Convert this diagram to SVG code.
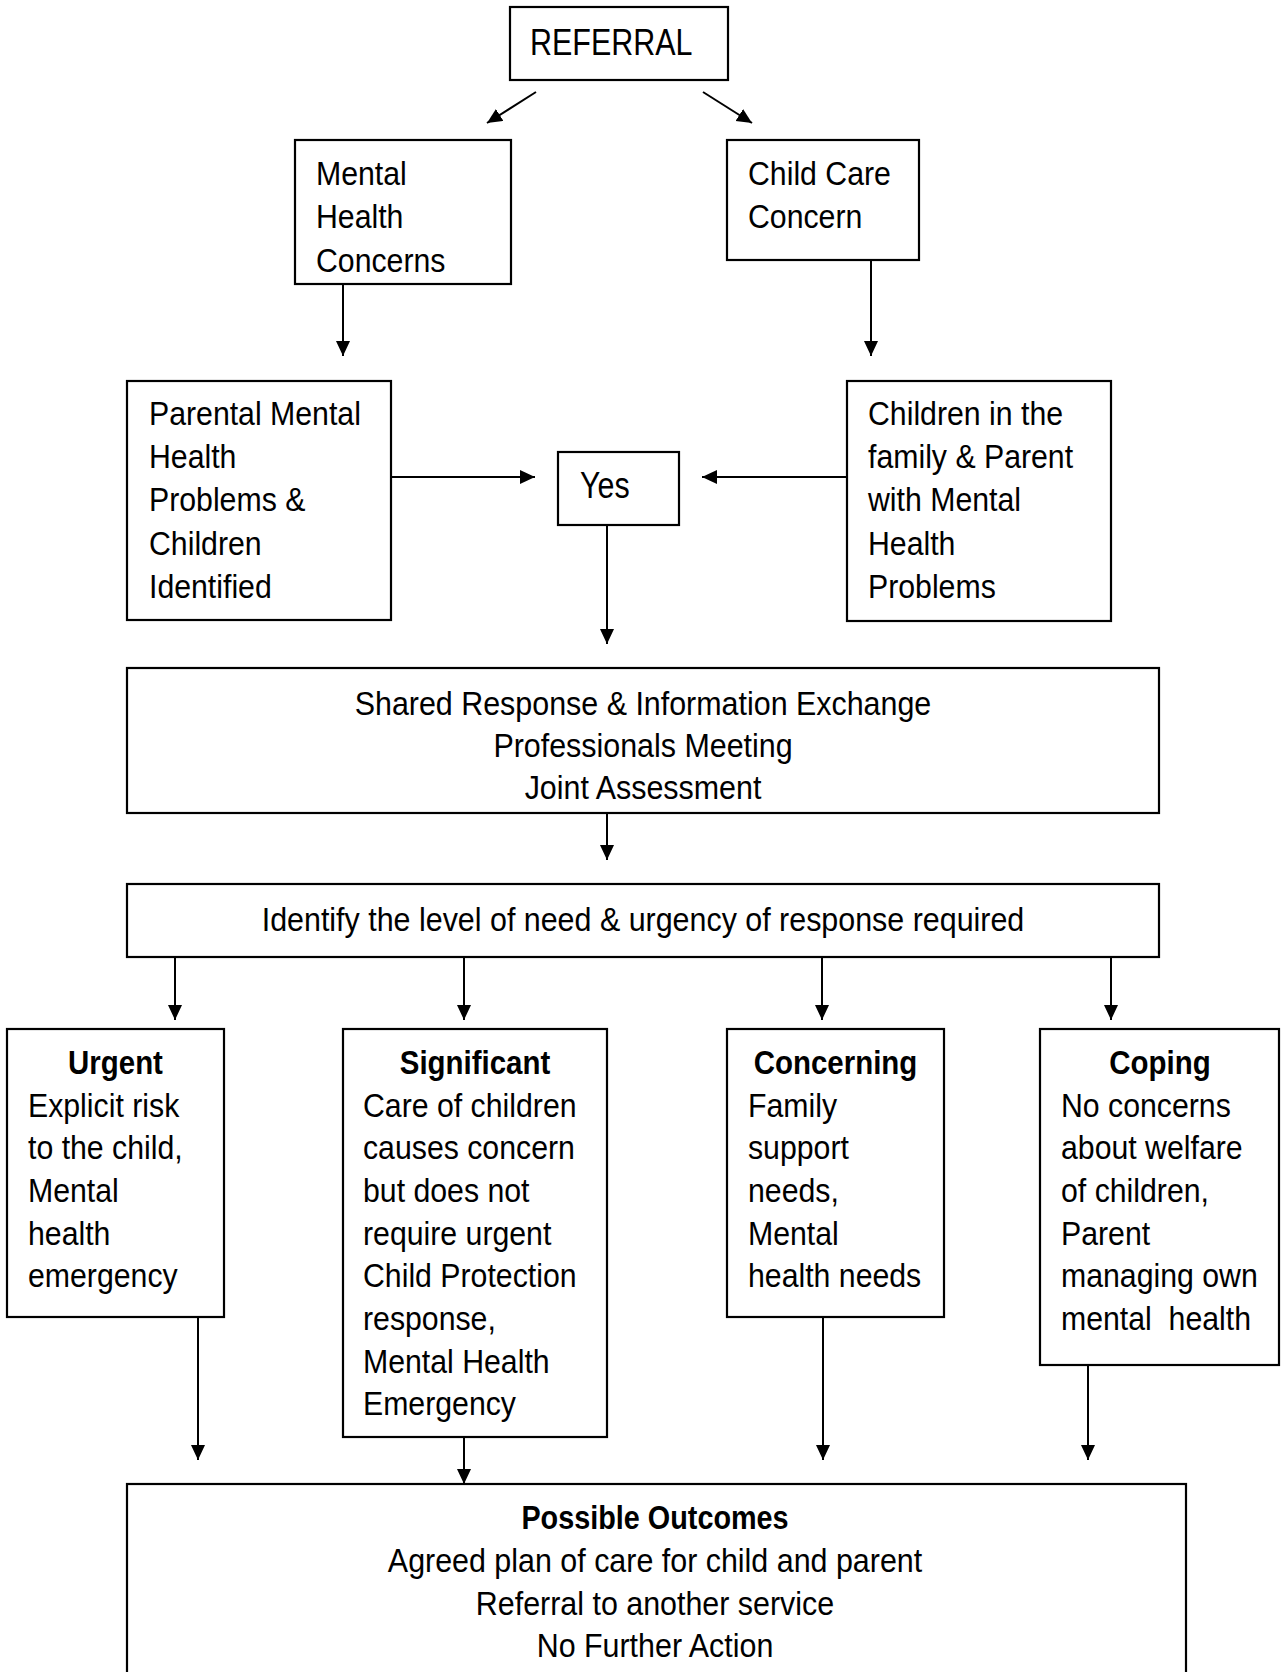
<svg xmlns="http://www.w3.org/2000/svg" width="1283" height="1672" viewBox="0 0 1283 1672">
<style>
.box{fill:#fff;stroke:#000;stroke-width:2.2}
.t{font-family:"Liberation Sans",Arial,sans-serif;font-size:34px;fill:#000}
.b{font-weight:bold}
.m{text-anchor:middle}
.big{font-size:37px}
.c{stroke:#000;stroke-width:2;fill:none;marker-end:url(#ah)}
</style>
<defs>
<marker id="ah" markerUnits="userSpaceOnUse" markerWidth="16" markerHeight="15" refX="15" refY="7" orient="auto">
<path d="M0,0 L15,7 L0,14 z" fill="#000"/>
</marker>
</defs>
<rect width="1283" height="1672" fill="#fff"/>
<g id="connectors">
<line class="c" x1="536" y1="92" x2="487" y2="123"/>
<line class="c" x1="703" y1="92" x2="752" y2="123"/>
<line class="c" x1="343" y1="284" x2="343" y2="356"/>
<line class="c" x1="871" y1="260" x2="871" y2="356"/>
<line class="c" x1="391" y1="477" x2="535" y2="477"/>
<line class="c" x1="847" y1="477" x2="702" y2="477"/>
<line class="c" x1="607" y1="525" x2="607" y2="644"/>
<line class="c" x1="607" y1="813" x2="607" y2="860"/>
<line class="c" x1="175" y1="948" x2="175" y2="1020"/>
<line class="c" x1="464" y1="948" x2="464" y2="1020"/>
<line class="c" x1="822" y1="948" x2="822" y2="1020"/>
<line class="c" x1="1111" y1="948" x2="1111" y2="1020"/>
<line class="c" x1="198" y1="1317" x2="198" y2="1460"/>
<line class="c" x1="464" y1="1437" x2="464" y2="1484"/>
<line class="c" x1="823" y1="1317" x2="823" y2="1460"/>
<line class="c" x1="1088" y1="1365" x2="1088" y2="1460"/>
</g>
<g id="referral">
<rect class="box" x="510" y="7" width="218" height="73"/>
<text class="t big" transform="translate(530,55) scale(0.823,1)">REFERRAL</text>
</g>
<g id="mental-health-concerns">
<rect class="box" x="295" y="140" width="216" height="144"/>
<text class="t" transform="translate(316,185) scale(0.89,1)"><tspan x="0" y="0">Mental</tspan><tspan x="0" y="43.3">Health</tspan><tspan x="0" y="86.6">Concerns</tspan></text>
</g>
<g id="child-care-concern">
<rect class="box" x="727" y="140" width="192" height="120"/>
<text class="t" transform="translate(748,185) scale(0.89,1)"><tspan x="0" y="0">Child Care</tspan><tspan x="0" y="43.3">Concern</tspan></text>
</g>
<g id="parental">
<rect class="box" x="127" y="381" width="264" height="239"/>
<text class="t" transform="translate(149,425) scale(0.89,1)"><tspan x="0" y="0">Parental Mental</tspan><tspan x="0" y="43.2">Health</tspan><tspan x="0" y="86.4">Problems &amp;</tspan><tspan x="0" y="129.6">Children</tspan><tspan x="0" y="172.8">Identified</tspan></text>
</g>
<g id="children-family">
<rect class="box" x="847" y="381" width="264" height="240"/>
<text class="t" transform="translate(868,425) scale(0.89,1)"><tspan x="0" y="0">Children in the</tspan><tspan x="0" y="43.2">family &amp; Parent</tspan><tspan x="0" y="86.4">with Mental</tspan><tspan x="0" y="129.6">Health</tspan><tspan x="0" y="172.8">Problems</tspan></text>
</g>
<g id="yes">
<rect class="box" x="558" y="452" width="121" height="73"/>
<text class="t big" transform="translate(580,498) scale(0.823,1)">Yes</text>
</g>
<g id="shared-response">
<rect class="box" x="127" y="668" width="1032" height="145"/>
<text class="t m" transform="translate(643,715) scale(0.895,1)"><tspan x="0" y="0">Shared Response &amp; Information Exchange</tspan><tspan x="0" y="42">Professionals Meeting</tspan><tspan x="0" y="84">Joint Assessment</tspan></text>
</g>
<g id="identify-level">
<rect class="box" x="127" y="884" width="1032" height="73"/>
<text class="t m" transform="translate(643,931) scale(0.895,1)">Identify the level of need &amp; urgency of response required</text>
</g>
<g id="urgent">
<rect class="box" x="7" y="1029" width="217" height="288"/>
<text class="t b m" transform="translate(115.5,1074) scale(0.866,1)">Urgent</text>
<text class="t" transform="translate(28,1116.5) scale(0.89,1)"><tspan x="0" y="0">Explicit risk</tspan><tspan x="0" y="42.7">to the child,</tspan><tspan x="0" y="85.4">Mental</tspan><tspan x="0" y="128.1">health</tspan><tspan x="0" y="170.8">emergency</tspan></text>
</g>
<g id="significant">
<rect class="box" x="343" y="1029" width="264" height="408"/>
<text class="t b m" transform="translate(475,1074) scale(0.866,1)">Significant</text>
<text class="t" transform="translate(363,1116.5) scale(0.89,1)"><tspan x="0" y="0">Care of children</tspan><tspan x="0" y="42.7">causes concern</tspan><tspan x="0" y="85.4">but does not</tspan><tspan x="0" y="128.1">require urgent</tspan><tspan x="0" y="170.8">Child Protection</tspan><tspan x="0" y="213.5">response,</tspan><tspan x="0" y="256.2">Mental Health</tspan><tspan x="0" y="298.9">Emergency</tspan></text>
</g>
<g id="concerning">
<rect class="box" x="727" y="1029" width="217" height="288"/>
<text class="t b m" transform="translate(835.5,1074) scale(0.866,1)">Concerning</text>
<text class="t" transform="translate(748,1116.5) scale(0.89,1)"><tspan x="0" y="0">Family</tspan><tspan x="0" y="42.7">support</tspan><tspan x="0" y="85.4">needs,</tspan><tspan x="0" y="128.1">Mental</tspan><tspan x="0" y="170.8">health needs</tspan></text>
</g>
<g id="coping">
<rect class="box" x="1040" y="1029" width="239" height="336"/>
<text class="t b m" transform="translate(1160,1074) scale(0.866,1)">Coping</text>
<text class="t" transform="translate(1061,1116.5) scale(0.89,1)"><tspan x="0" y="0">No concerns</tspan><tspan x="0" y="42.7">about welfare</tspan><tspan x="0" y="85.4">of children,</tspan><tspan x="0" y="128.1">Parent</tspan><tspan x="0" y="170.8">managing own</tspan><tspan x="0" y="213.5">mental&#160; health</tspan></text>
</g>
<g id="possible-outcomes">
<rect class="box" x="127" y="1484" width="1059" height="230"/>
<text class="t b m" transform="translate(655,1529) scale(0.847,1)">Possible Outcomes</text>
<text class="t m" transform="translate(655,1572) scale(0.895,1)"><tspan x="0" y="0">Agreed plan of care for child and parent</tspan><tspan x="0" y="42.7">Referral to another service</tspan><tspan x="0" y="85.4">No Further Action</tspan></text>
</g>
</svg>
